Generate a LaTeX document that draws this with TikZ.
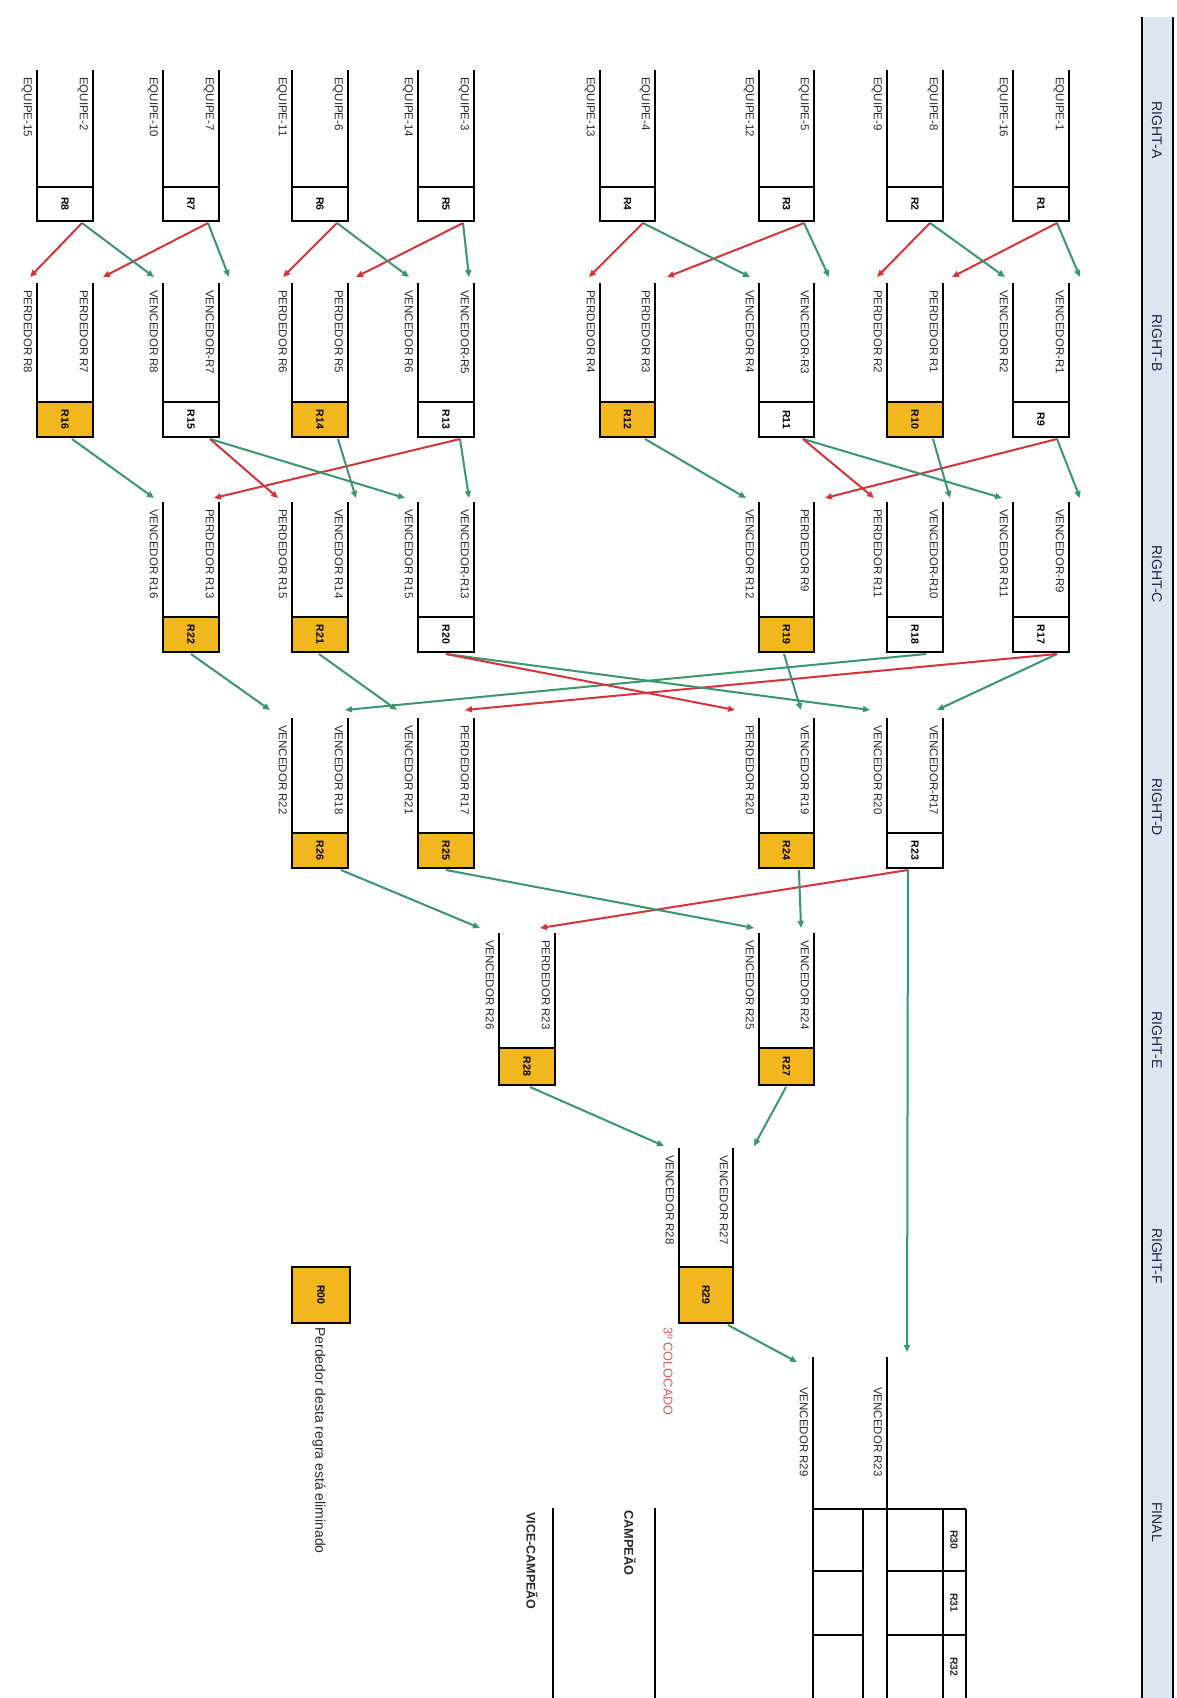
\documentclass[tikz,border=0pt]{standalone}
\usepackage{fontspec}
\setmainfont{Liberation Sans}
\usetikzlibrary{arrows.meta}
\definecolor{gold}{RGB}{242,182,30}
\definecolor{hdr}{RGB}{220,230,241}
\definecolor{gar}{RGB}{58,150,108}
\definecolor{rar}{RGB}{212,52,60}
\definecolor{txt}{RGB}{40,40,40}
\definecolor{pinkred}{RGB}{226,90,90}
\newcommand\mymatch[7]{%
  \draw[ln] (#2,\mmid) -- (#2,\mtop) (#3,\mmid) -- (#3,\mtop);
  \node[mbox,fill=#4,minimum width={(\mbot-\mmid)*1pt},minimum height={(#2-#3)*1pt}] (#1) at ({(#2+#3)/2},{(\mmid+\mbot)/2}) {#5};
  \node[lab,anchor=north west] (#1-a) at (#2-5,\mtop+7) {#6};
  \node[lab,anchor=north west] (#1-b) at (#3-5,\mtop+7) {#7};
}
\begin{document}
\begin{tikzpicture}[x=1pt,y=-1pt,
  ln/.style={line width=1.5pt},
  mbox/.style={draw,line width=1.5pt,rotate=-90,inner sep=0pt,font=\bfseries\fontsize{10.5}{11}\selectfont},
  lab/.style={rotate=-90,inner sep=0pt,font=\fontsize{11.5}{12}\selectfont,text=txt},
  ga/.style={draw=gar,line width=2pt,-{Triangle[length=7pt,width=6pt]}},
  ra/.style={draw=rar,line width=2pt,-{Triangle[length=7pt,width=6pt]}},
  hd/.style={rotate=-90,inner sep=0pt,font=\fontsize{14}{14}\selectfont,text=txt!85!blue}]
\useasboundingbox (0,0) rectangle (1176,1698);
\fill[white] (0,0) rectangle (1176,1698);

% header bar
\fill[hdr] (1142,17) rectangle (1173,1698);
\draw[line width=1.5pt] (1142,17) -- (1142,1698) (1173,17) -- (1173,1698);
\node[hd] (hA) at (1157,130) {RIGHT-A};
\node[hd] (hB) at (1157,343) {RIGHT-B};
\node[hd] (hC) at (1157,574) {RIGHT-C};
\node[hd] (hD) at (1157,807) {RIGHT-D};
\node[hd] (hE) at (1157,1040) {RIGHT-E};
\node[hd] (hF) at (1157,1256) {RIGHT-F};
\node[hd] (hG) at (1157,1522) {FINAL};

% round A
\def\mtop{70}\def\mmid{187}\def\mbot{221}
\mymatch{R1}{1069}{1013}{white}{R1}{EQUIPE-1}{EQUIPE-16}
\mymatch{R2}{943}{887}{white}{R2}{EQUIPE-8}{EQUIPE-9}
\mymatch{R3}{814}{759}{white}{R3}{EQUIPE-5}{EQUIPE-12}
\mymatch{R4}{655}{600}{white}{R4}{EQUIPE-4}{EQUIPE-13}
\mymatch{R5}{474}{418}{white}{R5}{EQUIPE-3}{EQUIPE-14}
\mymatch{R6}{348}{292}{white}{R6}{EQUIPE-6}{EQUIPE-11}
\mymatch{R7}{219}{163}{white}{R7}{EQUIPE-7}{EQUIPE-10}
\mymatch{R8}{93}{37}{white}{R8}{EQUIPE-2}{EQUIPE-15}

% round B
\def\mtop{283}\def\mmid{402}\def\mbot{437}
\mymatch{R9}{1069}{1013}{white}{R9}{VENCEDOR-R1}{VENCEDOR R2}
\mymatch{R10}{943}{887}{gold}{R10}{PERDEDOR R1}{PERDEDOR R2}
\mymatch{R11}{814}{759}{white}{R11}{VENCEDOR-R3}{VENCEDOR R4}
\mymatch{R12}{655}{600}{gold}{R12}{PERDEDOR R3}{PERDEDOR R4}
\mymatch{R13}{474}{418}{white}{R13}{VENCEDOR-R5}{VENCEDOR R6}
\mymatch{R14}{348}{292}{gold}{R14}{PERDEDOR R5}{PERDEDOR R6}
\mymatch{R15}{219}{163}{white}{R15}{VENCEDOR-R7}{VENCEDOR R8}
\mymatch{R16}{93}{37}{gold}{R16}{PERDEDOR R7}{PERDEDOR R8}

% round C
\def\mtop{502}\def\mmid{617}\def\mbot{652}
\mymatch{R17}{1069}{1013}{white}{R17}{VENCEDOR-R9}{VENCEDOR R11}
\mymatch{R18}{943}{887}{white}{R18}{VENCEDOR-R10}{PERDEDOR R11}
\mymatch{R19}{814}{759}{gold}{R19}{PERDEDOR R9}{VENCEDOR R12}
\mymatch{R20}{474}{418}{white}{R20}{VENCEDOR-R13}{VENCEDOR R15}
\mymatch{R21}{348}{292}{gold}{R21}{VENCEDOR R14}{PERDEDOR R15}
\mymatch{R22}{219}{163}{gold}{R22}{PERDEDOR R13}{VENCEDOR R16}

% round D
\def\mtop{718}\def\mmid{833}\def\mbot{868}
\mymatch{R23}{943}{887}{white}{R23}{VENCEDOR-R17}{VENCEDOR R20}
\mymatch{R24}{814}{759}{gold}{R24}{VENCEDOR R19}{PERDEDOR R20}
\mymatch{R25}{474}{418}{gold}{R25}{PERDEDOR R17}{VENCEDOR R21}
\mymatch{R26}{348}{292}{gold}{R26}{VENCEDOR R18}{VENCEDOR R22}

% round E
\def\mtop{933}\def\mmid{1048}\def\mbot{1085}
\mymatch{R27}{814}{759}{gold}{R27}{VENCEDOR R24}{VENCEDOR R25}
\mymatch{R28}{555}{499}{gold}{R28}{PERDEDOR R23}{VENCEDOR R26}

% round F
\def\mtop{1148}\def\mmid{1267}\def\mbot{1323}
\mymatch{R29}{733}{679}{gold}{R29}{VENCEDOR R27}{VENCEDOR R28}
\node[lab,anchor=west,text=pinkred,font=\fontsize{12.8}{13}\selectfont] (third) at (668,1327) {3º COLOCADO};

% legend
\node[draw,line width=1.5pt,fill=gold,minimum width=58pt,minimum height=56pt,inner sep=0pt,font=\bfseries\fontsize{10.5}{11}\selectfont] (leg) at (321,1295) {\rotatebox{-90}{R00}};
\node[lab,anchor=west,font=\fontsize{14}{14}\selectfont] (legt) at (319,1327) {Perdedor desta regra está eliminado};

% final
\draw[ln] (813,1357) -- (813,1698) (887,1357) -- (887,1698);
\node[lab,anchor=north west] (finLt) at (808,1387) {VENCEDOR R29};
\node[lab,anchor=north west] (finRt) at (882,1387) {VENCEDOR R23};
\draw[ln] (813,1509) -- (966,1509) (863,1509) -- (863,1698) (943,1509) -- (943,1698) (966,1509) -- (966,1698);
\draw[ln] (813,1571) -- (863,1571) (887,1571) -- (966,1571) (813,1635) -- (863,1635) (887,1635) -- (966,1635);
\node[lab,font=\bfseries\fontsize{10.5}{11}\selectfont] (r30) at (954,1540) {R30};
\node[lab,font=\bfseries\fontsize{10.5}{11}\selectfont] (r31) at (954,1603) {R31};
\node[lab,font=\bfseries\fontsize{10.5}{11}\selectfont] (r32) at (954,1667) {R32};

\draw[ln] (655,1508) -- (655,1698) (553,1508) -- (553,1698);
\node[lab,anchor=north west,font=\bfseries\fontsize{12.8}{13}\selectfont] (camp) at (636,1510) {CAMPEÃO};
\node[lab,anchor=north west,font=\bfseries\fontsize{12.5}{13}\selectfont] (vice) at (538,1512) {VICE-CAMPEÃO};

% start points
\foreach \n/\x in {R1/1057,R2/930,R3/804,R4/643,R5/463,R6/337,R7/208,R8/82}
  \coordinate (\n o) at (\x,223);
\foreach \n/\x in {R9/1057,R10/933,R11/803,R12/645,R13/460,R14/338,R15/210,R16/72}
  \coordinate (\n o) at (\x,439);
\foreach \n/\x in {R17/1057,R18/926,R19/784,R20/446,R21/319,R22/191}
  \coordinate (\n o) at (\x,654);
\foreach \n/\x in {R23/908,R24/799,R25/446,R26/341}
  \coordinate (\n o) at (\x,870);
\foreach \n/\x in {R27/786,R28/530}
  \coordinate (\n o) at (\x,1087);
\coordinate (R29o) at (728,1325);

% end points
\foreach \n/\x in {B1R/1080,B1L/1005,B2R/952,B2L/877,B3R/829,B3L/750,B4R/667,B4L/589,B5R/469,B5L/409,B6R/356,B6L/283,B7R/229,B7L/154,B8R/103,B8L/30}
  \coordinate (\n) at (\x,277);
\foreach \n/\x in {C1R/1080,C1L/1002,C2R/950,C2L/874,C3R/825,C3L/746,C5R/469,C5L/405,C6R/356,C6L/278,C7R/214,C7L/154}
  \coordinate (\n) at (\x,498);
\foreach \n/\x in {D2R/937,D2L/870,D3R/801,D3L/735,D5R/465,D5L/397,D6R/345,D6L/270}
  \coordinate (\n) at (\x,710);
\foreach \n/\x in {E1R/801,E1L/754,E2R/540,E2L/480}
  \coordinate (\n) at (\x,928);
\coordinate (FR) at (754,1146);
\coordinate (FL) at (664,1146);
\coordinate (FinL) at (797,1362);
\coordinate (FinR) at (907,1352);

% arrows A->B
\draw[ga] (R1o) -- (B1R); \draw[ra] (R1o) -- (B2R);
\draw[ga] (R2o) -- (B1L); \draw[ra] (R2o) -- (B2L);
\draw[ga] (R3o) -- (B3R); \draw[ra] (R3o) -- (B4R);
\draw[ga] (R4o) -- (B3L); \draw[ra] (R4o) -- (B4L);
\draw[ga] (R5o) -- (B5R); \draw[ra] (R5o) -- (B6R);
\draw[ga] (R6o) -- (B5L); \draw[ra] (R6o) -- (B6L);
\draw[ga] (R7o) -- (B7R); \draw[ra] (R7o) -- (B8R);
\draw[ga] (R8o) -- (B7L); \draw[ra] (R8o) -- (B8L);
% B->C
\draw[ga] (R9o) -- (C1R); \draw[ra] (R9o) -- (C3R);
\draw[ga] (R10o) -- (C2R);
\draw[ga] (R11o) -- (C1L); \draw[ra] (R11o) -- (C2L);
\draw[ga] (R12o) -- (C3L);
\draw[ga] (R13o) -- (C5R); \draw[ra] (R13o) -- (C7R);
\draw[ga] (R14o) -- (C6R);
\draw[ga] (R15o) -- (C5L); \draw[ra] (R15o) -- (C6L);
\draw[ga] (R16o) -- (C7L);
% C->D
\draw[ga] (R17o) -- (D2R); \draw[ra] (R17o) -- (D5R);
\draw[ga] (R18o) -- (D6R);
\draw[ga] (R19o) -- (D3R);
\draw[ga] (R20o) -- (D2L); \draw[ra] (R20o) -- (D3L);
\draw[ga] (R21o) -- (D5L);
\draw[ga] (R22o) -- (D6L);
% D->E
\draw[ga] (R23o) -- (FinR); \draw[ra] (R23o) -- (E2R);
\draw[ga] (R24o) -- (E1R);
\draw[ga] (R25o) -- (E1L);
\draw[ga] (R26o) -- (E2L);
% E->F
\draw[ga] (R27o) -- (FR);
\draw[ga] (R28o) -- (FL);
% F->final
\draw[ga] (R29o) -- (FinL);
\end{tikzpicture}
\end{document}
